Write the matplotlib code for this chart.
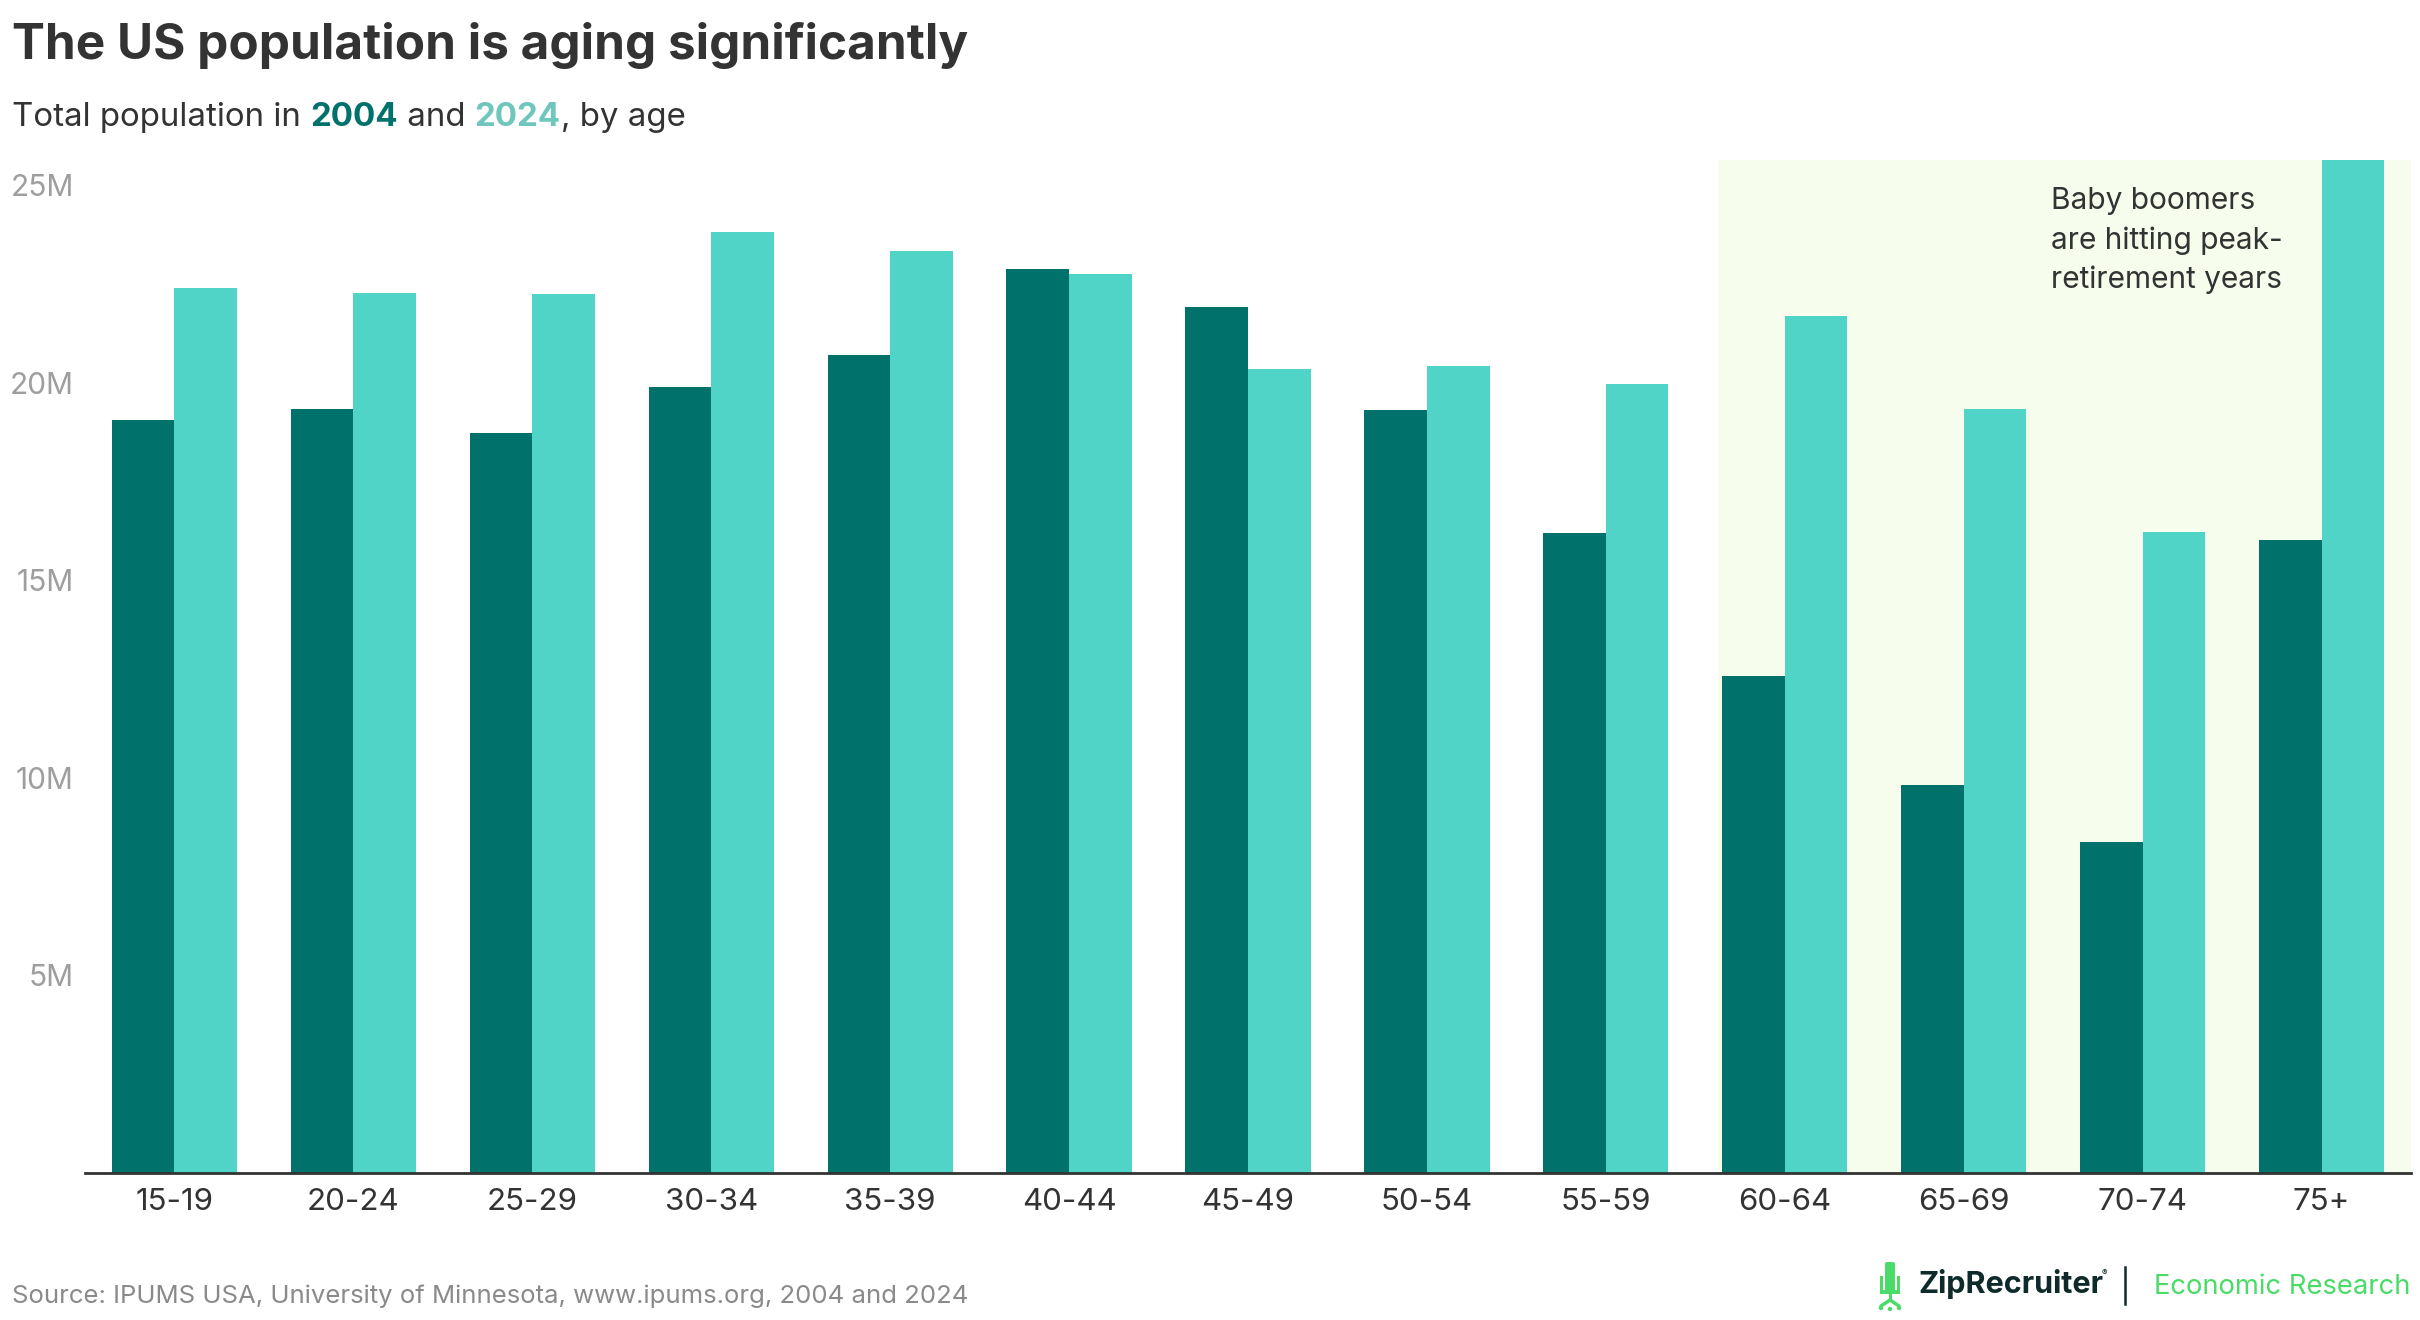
import matplotlib
matplotlib.use("Agg")
import matplotlib.pyplot as plt
from matplotlib.patches import Rectangle, Circle, FancyBboxPatch
import numpy as np

plt.rcParams['font.family'] = ['Inter', 'DejaVu Sans']

# ---------------- data ----------------
age_groups = ["15-19", "20-24", "25-29", "30-34", "35-39", "40-44", "45-49",
              "50-54", "55-59", "60-64", "65-69", "70-74", "75+"]
pop_2004 = [19.06, 19.34, 18.73, 19.89, 20.70, 22.88, 21.92,
            19.30, 16.20, 12.58, 9.82, 8.38, 16.02]
pop_2024 = [22.40, 22.27, 22.25, 23.83, 23.34, 22.75, 20.35,
            20.43, 19.96, 21.69, 19.34, 16.22, 25.90]
y_ticks = [5, 10, 15, 20, 25]
y_tick_labels = ["5M", "10M", "15M", "20M", "25M"]

title = "The US population is aging significantly"
annotation = "Baby boomers\nare hitting peak-\nretirement years"
source = "Source: IPUMS USA, University of Minnesota, www.ipums.org, 2004 and 2024"

C_DARK = "#00716B"
C_LIGHT = "#50D4C8"
C_HL = "#F6FDEC"
C_TEXT = "#333333"
C_GREY = "#9E9E9E"
C_GREEN = "#4ADB68"

W, H = 2420, 1320
fig = plt.figure(figsize=(W / 100, H / 100), dpi=100)

ax_l, ax_r, ax_t, ax_b = 85, 2411, 160, 1173
ax = fig.add_axes([ax_l / W, 1 - ax_b / H, (ax_r - ax_l) / W, (ax_b - ax_t) / H])

x = np.arange(len(age_groups))
bw = 0.35
ax.bar(x - bw / 2, pop_2004, width=bw, color=C_DARK, zorder=2, linewidth=0)
ax.bar(x + bw / 2, pop_2024, width=bw, color=C_LIGHT, zorder=2, linewidth=0)
ax.axvspan(8.625, 12.5, color=C_HL, zorder=0, linewidth=0)

ax.set_xlim(-0.5, 12.5)
ax.set_ylim(0, 25.64)
ax.set_xticks(x)
ax.set_xticklabels(age_groups, fontsize=22.5, color=C_TEXT)
ax.set_yticks(y_ticks)
ax.set_yticklabels(y_tick_labels, fontsize=21.5, color=C_GREY)
ax.tick_params(axis='x', length=0, pad=11)
ax.tick_params(axis='y', length=0, pad=8)
for s in ['top', 'right', 'left']:
    ax.spines[s].set_visible(False)
ax.spines['bottom'].set_color(C_TEXT)
ax.spines['bottom'].set_linewidth(2)
ax.spines['bottom'].set_zorder(3)

# overlay in pixel coordinates
ov = fig.add_axes([0, 0, 1, 1], zorder=5)
ov.set_xlim(0, W)
ov.set_ylim(H, 0)
ov.axis('off')
ov.patch.set_alpha(0)

ov.text(2051, 187, annotation, fontsize=21.5, color=C_TEXT, ha='left', va='top',
        linespacing=1.5)

ov.text(12, 59, title, fontsize=35.6, fontweight='bold', color=C_TEXT, ha='left', va='baseline')

# subtitle in multiple colours
renderer = fig.canvas.get_renderer()
parts = [("Total population in ", C_TEXT, 'normal'), ("2004", C_DARK, 'bold'),
         (" and ", C_TEXT, 'normal'), ("2024", "#6FC6BC", 'bold'), (", by age", C_TEXT, 'normal')]
xpos = 12
for txt, col, wt in parts:
    t = ov.text(xpos, 126, txt, fontsize=23.8, color=col, fontweight=wt, ha='left', va='baseline')
    bb = t.get_window_extent(renderer=renderer)
    xpos += bb.width

ov.text(12, 1303, source, fontsize=18.5, color="#8A8A8A", ha='left', va='baseline')

# ZipRecruiter logo
ov.add_patch(FancyBboxPatch((1885, 1262), 10, 30, boxstyle="round,pad=0,rounding_size=2",
                            color=C_GREEN, linewidth=0))
ov.add_patch(Rectangle((1880, 1276), 3, 16, color=C_GREEN, linewidth=0))
ov.add_patch(Rectangle((1897, 1276), 3, 16, color=C_GREEN, linewidth=0))
ov.add_patch(Rectangle((1880, 1290), 20, 4, color=C_GREEN, linewidth=0))
ov.add_patch(Rectangle((1888.5, 1294), 3, 7, color=C_GREEN, linewidth=0))
ov.plot([1881, 1890, 1899], [1306, 1300, 1306], color=C_GREEN, lw=2.5, solid_capstyle='round')
for cx, cy in [(1881, 1308), (1890, 1309), (1899, 1308)]:
    ov.add_patch(Circle((cx, cy), 2.2, color=C_GREEN, linewidth=0))
ov.text(1918, 1293, "ZipRecruiter", fontsize=22, fontweight='bold', color="#0E2A2A",
        ha='left', va='baseline')
ov.text(2102, 1275, "®", fontsize=6, color="#0E2A2A", ha='left', va='baseline')
ov.plot([2125, 2125], [1267, 1304], color="#0E2A2A", lw=1.8)
ov.text(2154, 1294, "Economic Research", fontsize=19.7, color=C_GREEN, ha='left', va='baseline')

fig.savefig("out.png", dpi=100, facecolor='white')
